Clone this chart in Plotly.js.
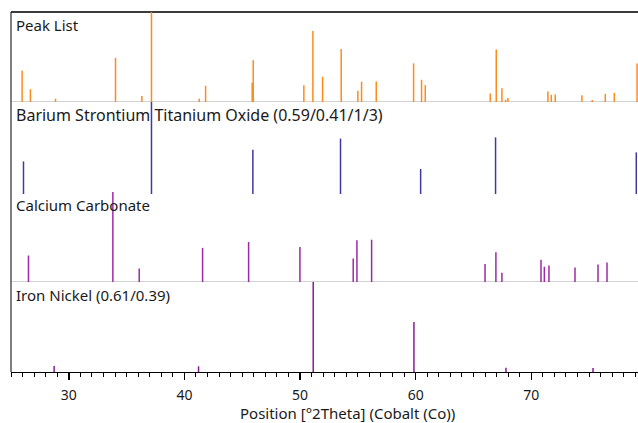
<!DOCTYPE html>
<html>
<head>
<meta charset="utf-8">
<script src="https://cdn.plot.ly/plotly-3.0.1.min.js"></script>
<style>
  html, body { margin: 0; padding: 0; background: #ffffff; overflow: hidden; }
  #chart { width: 638px; height: 423px; }
</style>
</head>
<body>
<div id="chart"></div>
<script>
// ---- Data (position in °2Theta, relative intensity %) ----
const panelNames = [
  "Peak List",
  "Barium Strontium Titanium Oxide (0.59/0.41/1/3)",
  "Calcium Carbonate",
  "Iron Nickel (0.61/0.39)"
];

const peakPos = [25.96, 26.68, 28.85, 34.04, 36.32, 37.15, 41.28, 41.83, 45.86, 45.95, 50.33, 51.11, 51.95, 53.56, 55.00, 55.32, 56.59, 59.82, 60.51, 60.83, 66.45, 66.97, 67.46, 67.78, 67.98, 71.44, 71.73, 72.07, 74.38, 75.27, 76.40, 77.18, 79.15];
const peakInt = [34.8, 14.2, 3.7, 49.0, 6.7, 100, 3.7, 18.0, 21.3, 46.4, 18.7, 79.0, 28.0, 59.0, 12.4, 22.5, 22.8, 43.0, 24.7, 18.7, 9.4, 58.4, 15.4, 2.6, 4.5, 11.6, 7.9, 8.2, 7.5, 2.2, 9.0, 10.1, 42.7];

const bstoPos = [26.08, 37.15, 45.92, 53.50, 60.43, 66.91, 79.08];
const bstoInt = [34.0, 100, 47.0, 59.3, 25.6, 60.7, 44.0];

const calcPos = [26.51, 33.81, 36.09, 41.57, 45.55, 49.99, 54.60, 54.92, 56.19, 66.00, 66.94, 67.46, 70.84, 71.13, 71.53, 73.78, 75.77, 76.55];
const calcInt = [29.4, 100, 15.0, 37.9, 44.5, 39.0, 26.0, 46.3, 47.0, 19.9, 33.0, 10.3, 24.6, 17.0, 18.4, 16.2, 19.5, 21.7];

const feniPos = [28.73, 41.22, 51.14, 59.85, 67.81, 75.34];
const feniInt = [6.7, 6.3, 100, 55.6, 4.8, 4.4];

const xTickVals = [30, 40, 50, 60, 70];
const xTitle = "Position [°2Theta] (Cobalt (Co))";

// ---- Styling ----
const colors = ["#ff8a1c", "#3b3ba3", "#9c2aa6", "#8a1a9c"];
const labelSizes = [15, 16, 15, 15];
const FONT = "'Segoe UI', 'Noto Sans', 'Open Sans', sans-serif";
const W = 638, H = 423;
const M = { l: 11, r: 0, t: 12, b: 51 };
const plotH = H - M.t - M.b;      // 360
const plotW = W - M.l - M.r;      // 627
const panelPx = plotH / 4;         // 90
const extPx = 2;                   // sticks extend slightly below baseline
const yLow = -extPx / panelPx * 100;

const series = [
  [peakPos, peakInt],
  [bstoPos, bstoInt],
  [calcPos, calcInt],
  [feniPos, feniInt]
];

function sticks(pos, inten, low) {
  const x = [], y = [];
  for (let i = 0; i < pos.length; i++) {
    x.push(pos[i], pos[i], null);
    y.push(low, inten[i], null);
  }
  return { x, y };
}

const traces = [];
const layout = {
  width: W, height: H,
  margin: M,
  paper_bgcolor: "#ffffff",
  plot_bgcolor: "#ffffff",
  showlegend: false,
  font: { family: FONT, size: 14, color: "#1a1a1a" },
  xaxis: {
    range: [25, 79.23],
    anchor: "y4",
    domain: [0, 1],
    tickvals: xTickVals,
    ticktext: xTickVals.map(String),
    ticks: "outside",
    ticklen: 7,
    tickwidth: 1.5,
    tickcolor: "#000000",
    ticklabelstandoff: 3,
    minor: { dtick: 1, tick0: 0, ticks: "outside", ticklen: 4, tickwidth: 1, tickcolor: "#000000", showgrid: false },
    showline: true,
    linecolor: "#000000",
    linewidth: 1,
    showgrid: false,
    zeroline: false,
    tickfont: { family: FONT, size: 14, color: "#1a1a1a" },
    fixedrange: true
  },
  shapes: [],
  annotations: []
};

for (let k = 0; k < 4; k++) {
  const top = 1 - k / 4;
  const base = 1 - (k + 1) / 4;
  const isLast = (k === 3);
  const dom = [isLast ? 0 : base - extPx / plotH, top];
  const yname = k === 0 ? "yaxis" : "yaxis" + (k + 1);
  const yref = k === 0 ? "y" : "y" + (k + 1);
  layout[yname] = {
    domain: dom,
    range: [isLast ? 0 : yLow, 100],
    visible: false,
    showgrid: false,
    zeroline: false,
    fixedrange: true
  };
  const s = sticks(series[k][0], series[k][1], isLast ? 0 : yLow);
  traces.push({
    type: "scatter",
    mode: "lines",
    x: s.x, y: s.y,
    xaxis: "x", yaxis: yref,
    line: { color: colors[k], width: 1.5 },
    hoverinfo: "skip",
    connectgaps: false
  });
  // separator (baseline) line
  if (!isLast) {
    layout.shapes.push({
      type: "line", xref: "paper", yref: "paper",
      x0: 0, x1: 1, y0: base, y1: base,
      line: { color: "#a6a6a6", width: 1 }, layer: "below"
    });
  }
  // panel label
  layout.annotations.push({
    text: panelNames[k],
    xref: "paper", yref: "paper",
    x: 3 / plotW, y: top - 13 / plotH,
    xanchor: "left", yanchor: "middle",
    showarrow: false,
    font: { family: FONT, size: labelSizes[k], color: "#1a1a1a" }
  });
}

// top border and left border
layout.shapes.push({
  type: "line", xref: "paper", yref: "paper",
  x0: 0, x1: 1, y0: 1, y1: 1,
  line: { color: "#3c3c3c", width: 2 }, layer: "below"
});
layout.shapes.push({
  type: "line", xref: "paper", yref: "paper",
  x0: 0, x1: 0, y0: 0, y1: 1,
  line: { color: "#000000", width: 1 }
});

// x axis title (positioned as in the reference)
layout.annotations.push({
  text: xTitle,
  xref: "paper", yref: "paper",
  x: (347.5 - M.l) / plotW, y: -(413 - (M.t + plotH)) / plotH,
  xanchor: "center", yanchor: "middle",
  showarrow: false,
  font: { family: FONT, size: 15, color: "#1a1a1a" }
});

Plotly.newPlot("chart", traces, layout, { staticPlot: true, displayModeBar: false });
</script>
</body>
</html>
